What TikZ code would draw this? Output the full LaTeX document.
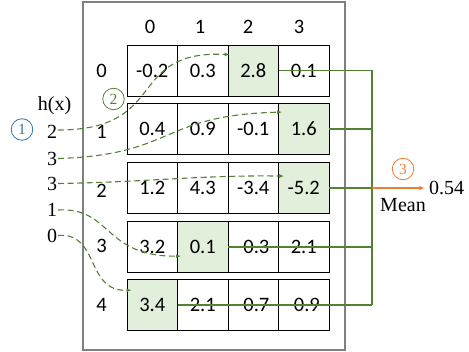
\documentclass[tikz,border=0pt]{standalone}
\usepackage{fontspec}
\setmainfont{Liberation Serif}
\newfontfamily\calfont{Carlito}
\usetikzlibrary{arrows.meta,calc}
\definecolor{lgreen}{HTML}{E2EFDA}
\definecolor{dgreen}{HTML}{548235}
\definecolor{myblue}{HTML}{2E75B6}
\definecolor{myorange}{HTML}{ED7D31}
\definecolor{framegray}{HTML}{7F7F7F}
\tikzset{
  cell/.style={draw=black, line width=0.8pt, minimum width=50.5pt, minimum height=51pt, inner sep=0pt,
    font=\calfont\fontsize{20.5pt}{24pt}\selectfont},
  sanslabel/.style={inner sep=0pt, font=\calfont\fontsize{20.5pt}{24pt}\selectfont},
  seriflabel/.style={inner sep=1pt, font=\fontsize{20pt}{24pt}\selectfont},
  badge/.style={circle, draw=#1, text=#1, line width=0.8pt, minimum size=21.5pt, inner sep=0pt,
    font=\fontsize{15.5pt}{17pt}\selectfont},
  frame/.style={draw=framegray, line width=1.3pt, minimum width=262pt, minimum height=348pt, inner sep=0pt},
  gline/.style={draw=dgreen, line width=1.3pt},
  dline/.style={draw=dgreen, line width=1.1pt, dash pattern=on 6pt off 3.5pt, -{Latex[length=5pt,width=4pt]}},
  oline/.style={draw=myorange, line width=1.5pt, -{Latex[length=5.5pt,width=4.5pt]}}
}
\begin{document}
\begin{tikzpicture}[x=1pt,y=-1pt]
\useasboundingbox (0,0) rectangle (469,352);
% outer frame
\node[frame] (fr) at (214,176) {};
% column headers
\foreach \c/\x in {0/150,1/200,2/248,3/299}
  \node[sanslabel] (h\c) at (\x,26.5) {\c};
% row labels
\foreach \r/\y in {0/71,1/132,2/191,3/246,4/305}
  \node[sanslabel] (r\r) at (101.5,\y) {\r};
% cells
\foreach \v [count=\k from 0] in {-0.2,0.3,2.8,0.1,0.4,0.9,-0.1,1.6,1.2,4.3,-3.4,-5.2,3.2,0.1,-0.3,2.1,3.4,2.1,-0.7,-0.9} {
  \pgfmathtruncatemacro\r{int(\k/4)}
  \pgfmathtruncatemacro\c{mod(\k,4)}
  \pgfmathtruncatemacro\hc{{2,3,3,1,0}[\r]}
  \pgfmathsetmacro\ry{{70.5,129,188,247,305}[\r]}
  \ifnum\c=\hc \def\cf{lgreen}\else\def\cf{white}\fi
  \node[cell, fill=\cf] (c\r\c) at ({152.25+50.5*\c},\ry) {\v};
}
% left labels
\node[seriflabel] (hx) at (54.5,105.5) {h(x)};
\node[seriflabel] (n1) at (52,132) {2};
\node[seriflabel] (n2) at (52,158.5) {3};
\node[seriflabel] (n3) at (52,183.5) {3};
\node[seriflabel] (n4) at (52,210) {1};
\node[seriflabel] (n5) at (52,235.5) {0};
% badges
\node[badge=myblue] (b1) at (22,129.5) {1};
\node[badge=dgreen] (b2) at (113.5,99) {2};
\node[badge=myorange] (b3) at (403,169) {3};
% result
\node[seriflabel, inner sep=4pt] (res) at (446.5,187.5) {0.54};
\node[seriflabel] (mean) at (403,205.5) {Mean};
% junction
\coordinate (mj) at (372,0);
% solid green lines
\draw[gline] (c02.east) -- (c02.east -| mj);
\draw[gline] (c13.east) -- (c13.east -| mj);
\draw[gline] (c23.east) -- (c23.east -| mj);
\draw[gline] (c31.east) -- (c31.east -| mj);
\draw[gline] (c40.east) -- (c40.east -| mj);
\draw[gline] (c02.east -| mj) -- (c40.east -| mj);
\draw[oline] (c23.east -| mj) -- (c23.east -| res.west);
% dashed arrows
\draw[dline] ($(n1.east)+(0,-2)$) .. controls (170,130) and (125,50) .. ($(c02.north west)+(2,10)$);
\draw[dline] (n2.east) .. controls (175,155) and (160,115) .. ($(c13.north west)+(4,9)$);
\draw[dline] (n3.east) .. controls (150,182) and (200,175) .. ($(c23.north west)+(6,14)$);
\draw[dline] (n4.east) .. controls (112,207) and (103,257) .. ($(c31.north west)+(4,35)$);
\draw[dline] (n5.east) .. controls (100,232) and (85,292) .. ($(c40.north west)+(5,11)$);
\end{tikzpicture}
\end{document}
